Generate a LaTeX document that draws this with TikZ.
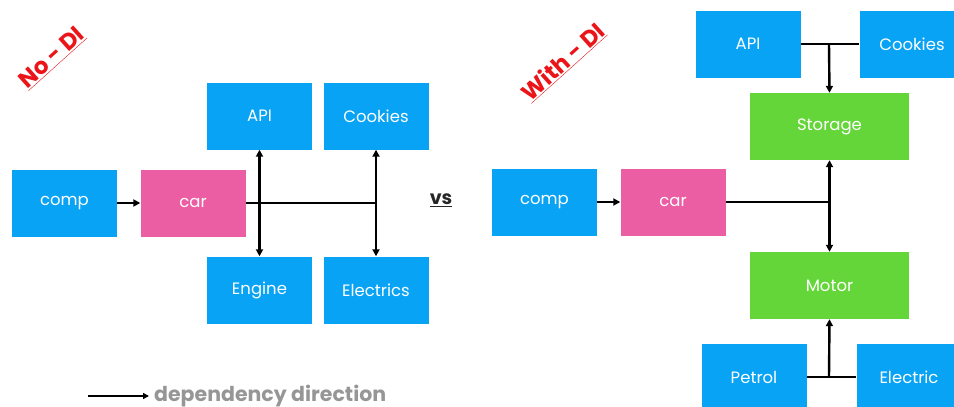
\documentclass[tikz,border=0pt]{standalone}
\usepackage{fontspec}
\setmainfont{Poppins}
\usetikzlibrary{arrows.meta}
\definecolor{boxblue}{RGB}{8,163,245}
\definecolor{boxpink}{RGB}{236,94,164}
\definecolor{boxgreen}{RGB}{101,214,58}
\definecolor{tagred}{RGB}{235,20,25}
\definecolor{legendgray}{RGB}{150,150,150}
\tikzset{
  box/.style={rectangle, inner sep=0pt, text=white, font=\fontsize{16.5}{19}\selectfont},
  bluebox/.style={box, fill=boxblue, minimum width=105pt, minimum height=67pt},
  pinkbox/.style={box, fill=boxpink, minimum width=105pt, minimum height=67pt},
  greenbox/.style={box, fill=boxgreen, minimum width=159pt, minimum height=67pt},
  link/.style={line width=2.4pt, black},
  dep/.style={link, -{Triangle[length=7pt,width=7pt]}},
  bidep/.style={link, {Triangle[length=7pt,width=7pt]}-{Triangle[length=7pt,width=7pt]}},
  tag/.style={text=tagred, font=\bfseries\fontsize{23}{26}\selectfont, rotate=42}
}
\begin{document}
\begin{tikzpicture}[x=1pt,y=-1pt]
\useasboundingbox (0,0) rectangle (954,407);

% ---------- without dependency injection ----------
\node[tag] (nodi) at (52,58) {\underline{No - DI}};
\node[bluebox] (comp1) at (64.5,203) {comp};
\node[pinkbox] (car1) at (193,203) {car};
\node[bluebox] (api1) at (259.5,116) {API};
\node[bluebox] (cook1) at (376,116) {Cookies};
\node[bluebox] (eng1) at (259.5,290) {Engine};
\node[bluebox] (elec1) at (376,290) {Electrics};
\coordinate (j1) at (376,203);
\draw[dep] (comp1) -- (car1);
\draw[link] (car1.east) -- (j1);
\draw[bidep] (api1.south) -- (eng1.north);
\draw[bidep] (cook1.south) -- (elec1.north);

% ---------- versus ----------
\node[font=\bfseries\fontsize{19}{22}\selectfont, text=black!85] (vs) at (441,200) {\underline{vs}};

% ---------- with dependency injection ----------
\node[tag] (withdi) at (563,62) {\underline{With - DI}};
\node[bluebox] (api2) at (748,44) {API};
\node[bluebox] (cook2) at (912,44) {Cookies};
\node[greenbox] (store) at (829.5,126.5) {Storage};
\node[bluebox] (comp2) at (544.5,202) {comp};
\node[pinkbox] (car2) at (673,202) {car};
\node[greenbox] (motor) at (829.5,285.5) {Motor};
\node[bluebox] (petrol) at (754,377) {Petrol};
\node[bluebox] (elec2) at (909,377) {Electric};
\coordinate (jtop) at (829,44);
\coordinate (jmid) at (829,202);
\coordinate (jbot) at (829,377);
\draw[link] (api2.east) -- (cook2.west);
\draw[dep] (jtop) -- (store.north);
\draw[dep] (comp2) -- (car2);
\draw[link] (car2.east) -- (jmid);
\draw[bidep] (store.south) -- (motor.north);
\draw[link] (petrol.east) -- (elec2.west);
\draw[dep] (jbot) -- (motor.south);

% ---------- legend ----------
\coordinate (lgA) at (88,396);
\node[anchor=west, text=legendgray, font=\bfseries\fontsize{20.5}{23}\selectfont, inner sep=0pt] (lgtext) at (154,396) {dependency direction};
\draw[link, line width=2pt, -{Triangle[length=6pt,width=6pt]}] (lgA) -- ([xshift=-5pt]lgtext.west);
\end{tikzpicture}
\end{document}
